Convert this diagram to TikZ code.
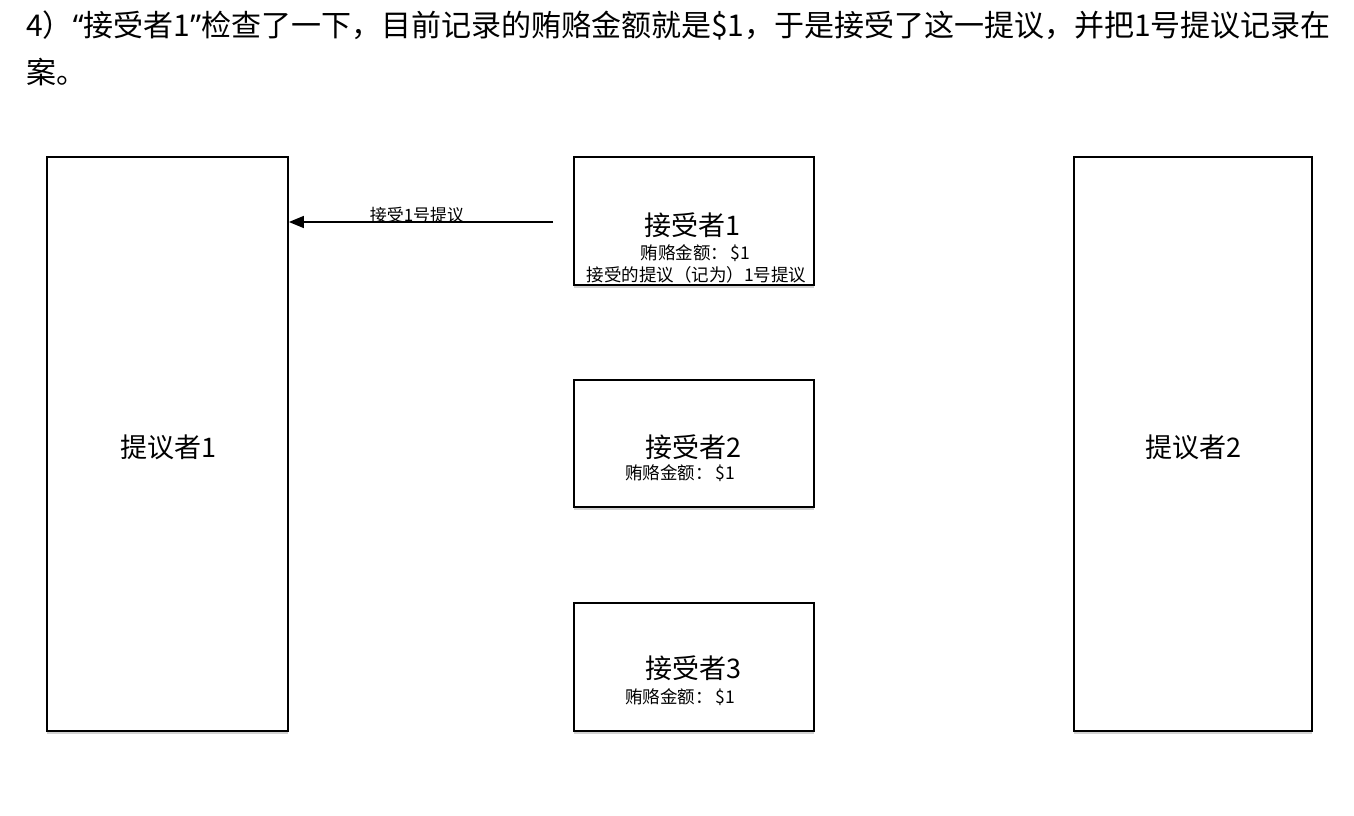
\documentclass[tikz,border=0pt]{standalone}
\usepackage{fontspec}
\setmainfont{Noto Sans CJK SC}
\newfontfamily\latinq{Noto Sans}
\usetikzlibrary{arrows.meta,shadows}
\begin{document}
\begin{tikzpicture}[x=1pt,y=-1pt,
  box/.style={draw=black, line width=1.8pt, fill=white, inner sep=0pt,
    drop shadow={opacity=0.35, shadow xshift=0pt, shadow yshift=-2.5pt}},
  big/.style={font=\fontsize{27}{32}\selectfont, inner sep=0pt},
  small/.style={font=\fontsize{17.5}{21}\selectfont, inner sep=0pt},
  head/.style={font=\fontsize{30}{36}\selectfont, inner sep=0pt, anchor=west}]
\useasboundingbox (0,0) rectangle (1354,816);
\fill[white] (0,0) rectangle (1354,816);
% header
\node[head] (h1) at (26,26) {4）{\latinq “}接受者1{\latinq ”}检查了一下，目前记录的贿赂金额就是\$1，于是接受了这一提议，并把1号提议记录在};
\node[head] (h2) at (26,72) {案。};
% proposers
\node[box, minimum width=241pt, minimum height=574pt] (p1) at (167.5,444) {};
\node[big] (p1t) at (168,447) {提议者1};
\node[box, minimum width=238pt, minimum height=574pt] (p2) at (1193,444) {};
\node[big] (p2t) at (1193,447) {提议者2};
% acceptors
\node[box, minimum width=240pt, minimum height=128pt] (a1) at (694,221) {};
\node[box, minimum width=240pt, minimum height=127pt] (a2) at (694,443.5) {};
\node[box, minimum width=240pt, minimum height=128pt] (a3) at (694,667) {};
\node[big] (a1t) at (692,225) {接受者1};
\node[small] (a1b) at (695.5,253) {贿赂金额：\,\$1};
\node[small] (a1c) at (696.5,275) {接受的提议（记为）1号提议};
\node[big] (a2t) at (693,447) {接受者2};
\node[small, anchor=west] (a2b) at (625,473) {贿赂金额：\,\$1};
\node[big] (a3t) at (693,668) {接受者3};
\node[small, anchor=west] (a3b) at (625,697) {贿赂金额：\,\$1};
% arrow
\coordinate (s) at (553,222);
\draw[line width=1.6pt, -{Triangle[length=15pt,width=12pt]}] (s) -- (p1.east |- s);
\node[font=\fontsize{17}{20}\selectfont, inner sep=0pt] (lbl) at (417,215) {接受1号提议};
\end{tikzpicture}
\end{document}
